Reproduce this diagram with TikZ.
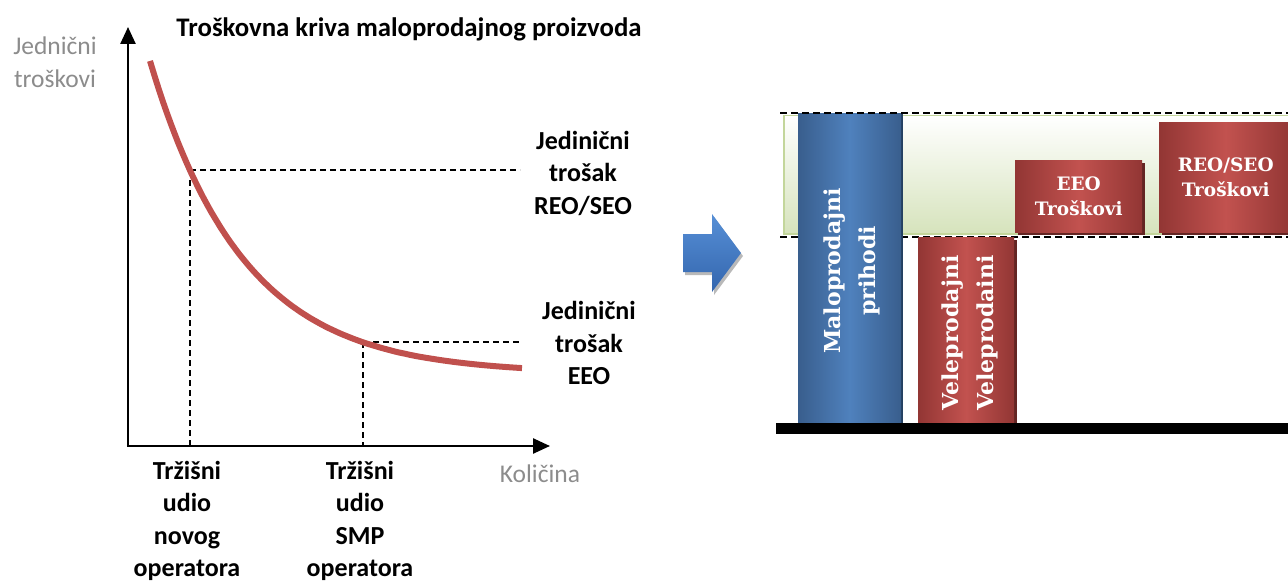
\documentclass[tikz,border=0pt]{standalone}
\usepackage{fontspec}
\setmainfont{Carlito}
\newfontfamily\barfont{DejaVu Serif}
\usetikzlibrary{arrows.meta,shadows}
\definecolor{curvered}{RGB}{192,80,77}
\definecolor{axgray}{RGB}{140,140,140}
\definecolor{bandgreen}{RGB}{214,227,188}
\definecolor{bandedge}{RGB}{195,214,155}
\definecolor{blueL}{RGB}{79,129,189}
\definecolor{blueD}{RGB}{57,94,141}
\definecolor{blueS}{RGB}{36,64,97}
\definecolor{redL}{RGB}{194,82,79}
\definecolor{redD}{RGB}{146,54,52}
\definecolor{redS}{RGB}{99,37,35}
\definecolor{arrL}{RGB}{86,143,214}
\definecolor{arrD}{RGB}{52,102,174}
\begin{document}
\begin{tikzpicture}[x=1pt,y=-1pt,
  lab/.style={font=\fontsize{26}{32.5}\selectfont\bfseries, align=center, inner sep=0pt},
  glab/.style={font=\fontsize{25.5}{33}\selectfont, text=axgray, align=center, inner sep=0pt},
  axisline/.style={line width=2.5pt, -{Triangle[length=17pt,width=15pt]}},
  guide/.style={line width=1.3pt, dash pattern=on 6pt off 4pt},
  bandline/.style={line width=1.4pt, dash pattern=on 7pt off 4pt},
  redbox/.style={inner sep=0pt, left color=redD, right color=redD, middle color=redL,
    drop shadow={shadow xshift=2.5pt, shadow yshift=-2.5pt, fill=redS, opacity=1}},
  bluebox/.style={inner sep=0pt, left color=blueD, right color=blueD, middle color=blueL,
    drop shadow={shadow xshift=2pt, shadow yshift=0pt, fill=blueS, opacity=1}},
  bartext/.style={font=\barfont\bfseries\fontsize{18.5}{25}\selectfont, text=white, align=center, inner sep=0pt},
  vbartext/.style={font=\barfont\bfseries\fontsize{22}{35}\selectfont, text=white, align=center, inner sep=0pt, rotate=90}]
\useasboundingbox (0,0) rectangle (1288,583);

% ---------- left chart ----------
\coordinate (origin) at (128,446);
\coordinate (ytip) at (128,27);
\coordinate (xtip) at (550,446);
\draw[axisline] (origin) -- (ytip);
\draw[axisline] ([xshift=-1.25pt]origin) -- (xtip);

\coordinate (pA) at (190,170);
\coordinate (pB) at (363,342);
\coordinate (pAend) at (520,170);
\coordinate (pBend) at (522,342);
\coordinate (pAfoot) at (190,446);
\coordinate (pBfoot) at (363,446);
\draw[guide] (pA) -- (pAend);
\draw[guide] (pA) -- (pAfoot);
\draw[guide] (pB) -- (pBend);
\draw[guide] (pB) -- (pBfoot);

\draw[curvered, line width=6pt] plot[domain=150:522, samples=80, smooth] (\x, {373.8-1571*exp(-0.01075*\x)});

\node[lab, font=\fontsize{26.8}{33}\selectfont\bfseries, anchor=base] (title) at (409,37) {Troškovna kriva maloprodajnog proizvoda};
\node[glab] (ylab) at (55,62) {Jednični\\troškovi};
\node[glab] (xlab) at (540,474) {Količina};
\node[lab] (reo) at (583,173) {Jedinični\\trošak\\REO/SEO};
\node[lab] (eeo) at (589,343) {Jedinični\\trošak\\EEO};
\node[lab] (novi) at (187,521) {Tržišni\\udio\\novog\\operatora};
\node[lab] (smp) at (360,521) {Tržišni\\udio\\SMP\\operatora};

% ---------- block arrow ----------
\fill[gray!55] (685,237) -- (714,237) -- (714,217) -- (743,256) -- (714,295) -- (714,275) -- (685,275) -- cycle;
\shade[top color=arrL, bottom color=arrD] (683,234) -- (712,234) -- (712,214) -- (741,253) -- (712,292) -- (712,272) -- (683,272) -- cycle;

% ---------- right diagram ----------
\node[inner sep=0pt, anchor=north west, minimum width=515pt, minimum height=118pt,
  top color=white, bottom color=bandgreen, draw=bandedge, line width=1.5pt] (band) at (783,115) {};
\coordinate (bandTL) at (780,113);
\coordinate (bandTR) at (1290,113);
\coordinate (bandBL) at (780,237);
\coordinate (bandBR) at (1290,237);
\draw[bandline] (bandBL) -- (bandBR);

\node[bluebox, anchor=north west, minimum width=103pt, minimum height=311pt] (malo) at (798,113) {};
\node[vbartext] (malot) at (852,271) {Maloprodajni\\prihodi};

\node[redbox, anchor=north west, minimum width=96pt, minimum height=187pt] (vele) at (918,237) {};
\node[vbartext] (velet) at (970,333) {Veleprodajni\\Veleprodaini};

\node[redbox, anchor=north west, minimum width=127pt, minimum height=72pt, bartext] (eeobox) at (1015,160) {EEO\\Troškovi};
\node[redbox, anchor=north west, minimum width=133pt, minimum height=110pt, bartext] (reobox) at (1159,122) {REO/SEO\\Troškovi};

\draw[bandline] (bandTL) -- (bandTR);

\coordinate (baseL) at (776,428.5);
\coordinate (baseR) at (1290,428.5);
\draw[line width=11pt] (baseL) -- (baseR);
\end{tikzpicture}
\end{document}
